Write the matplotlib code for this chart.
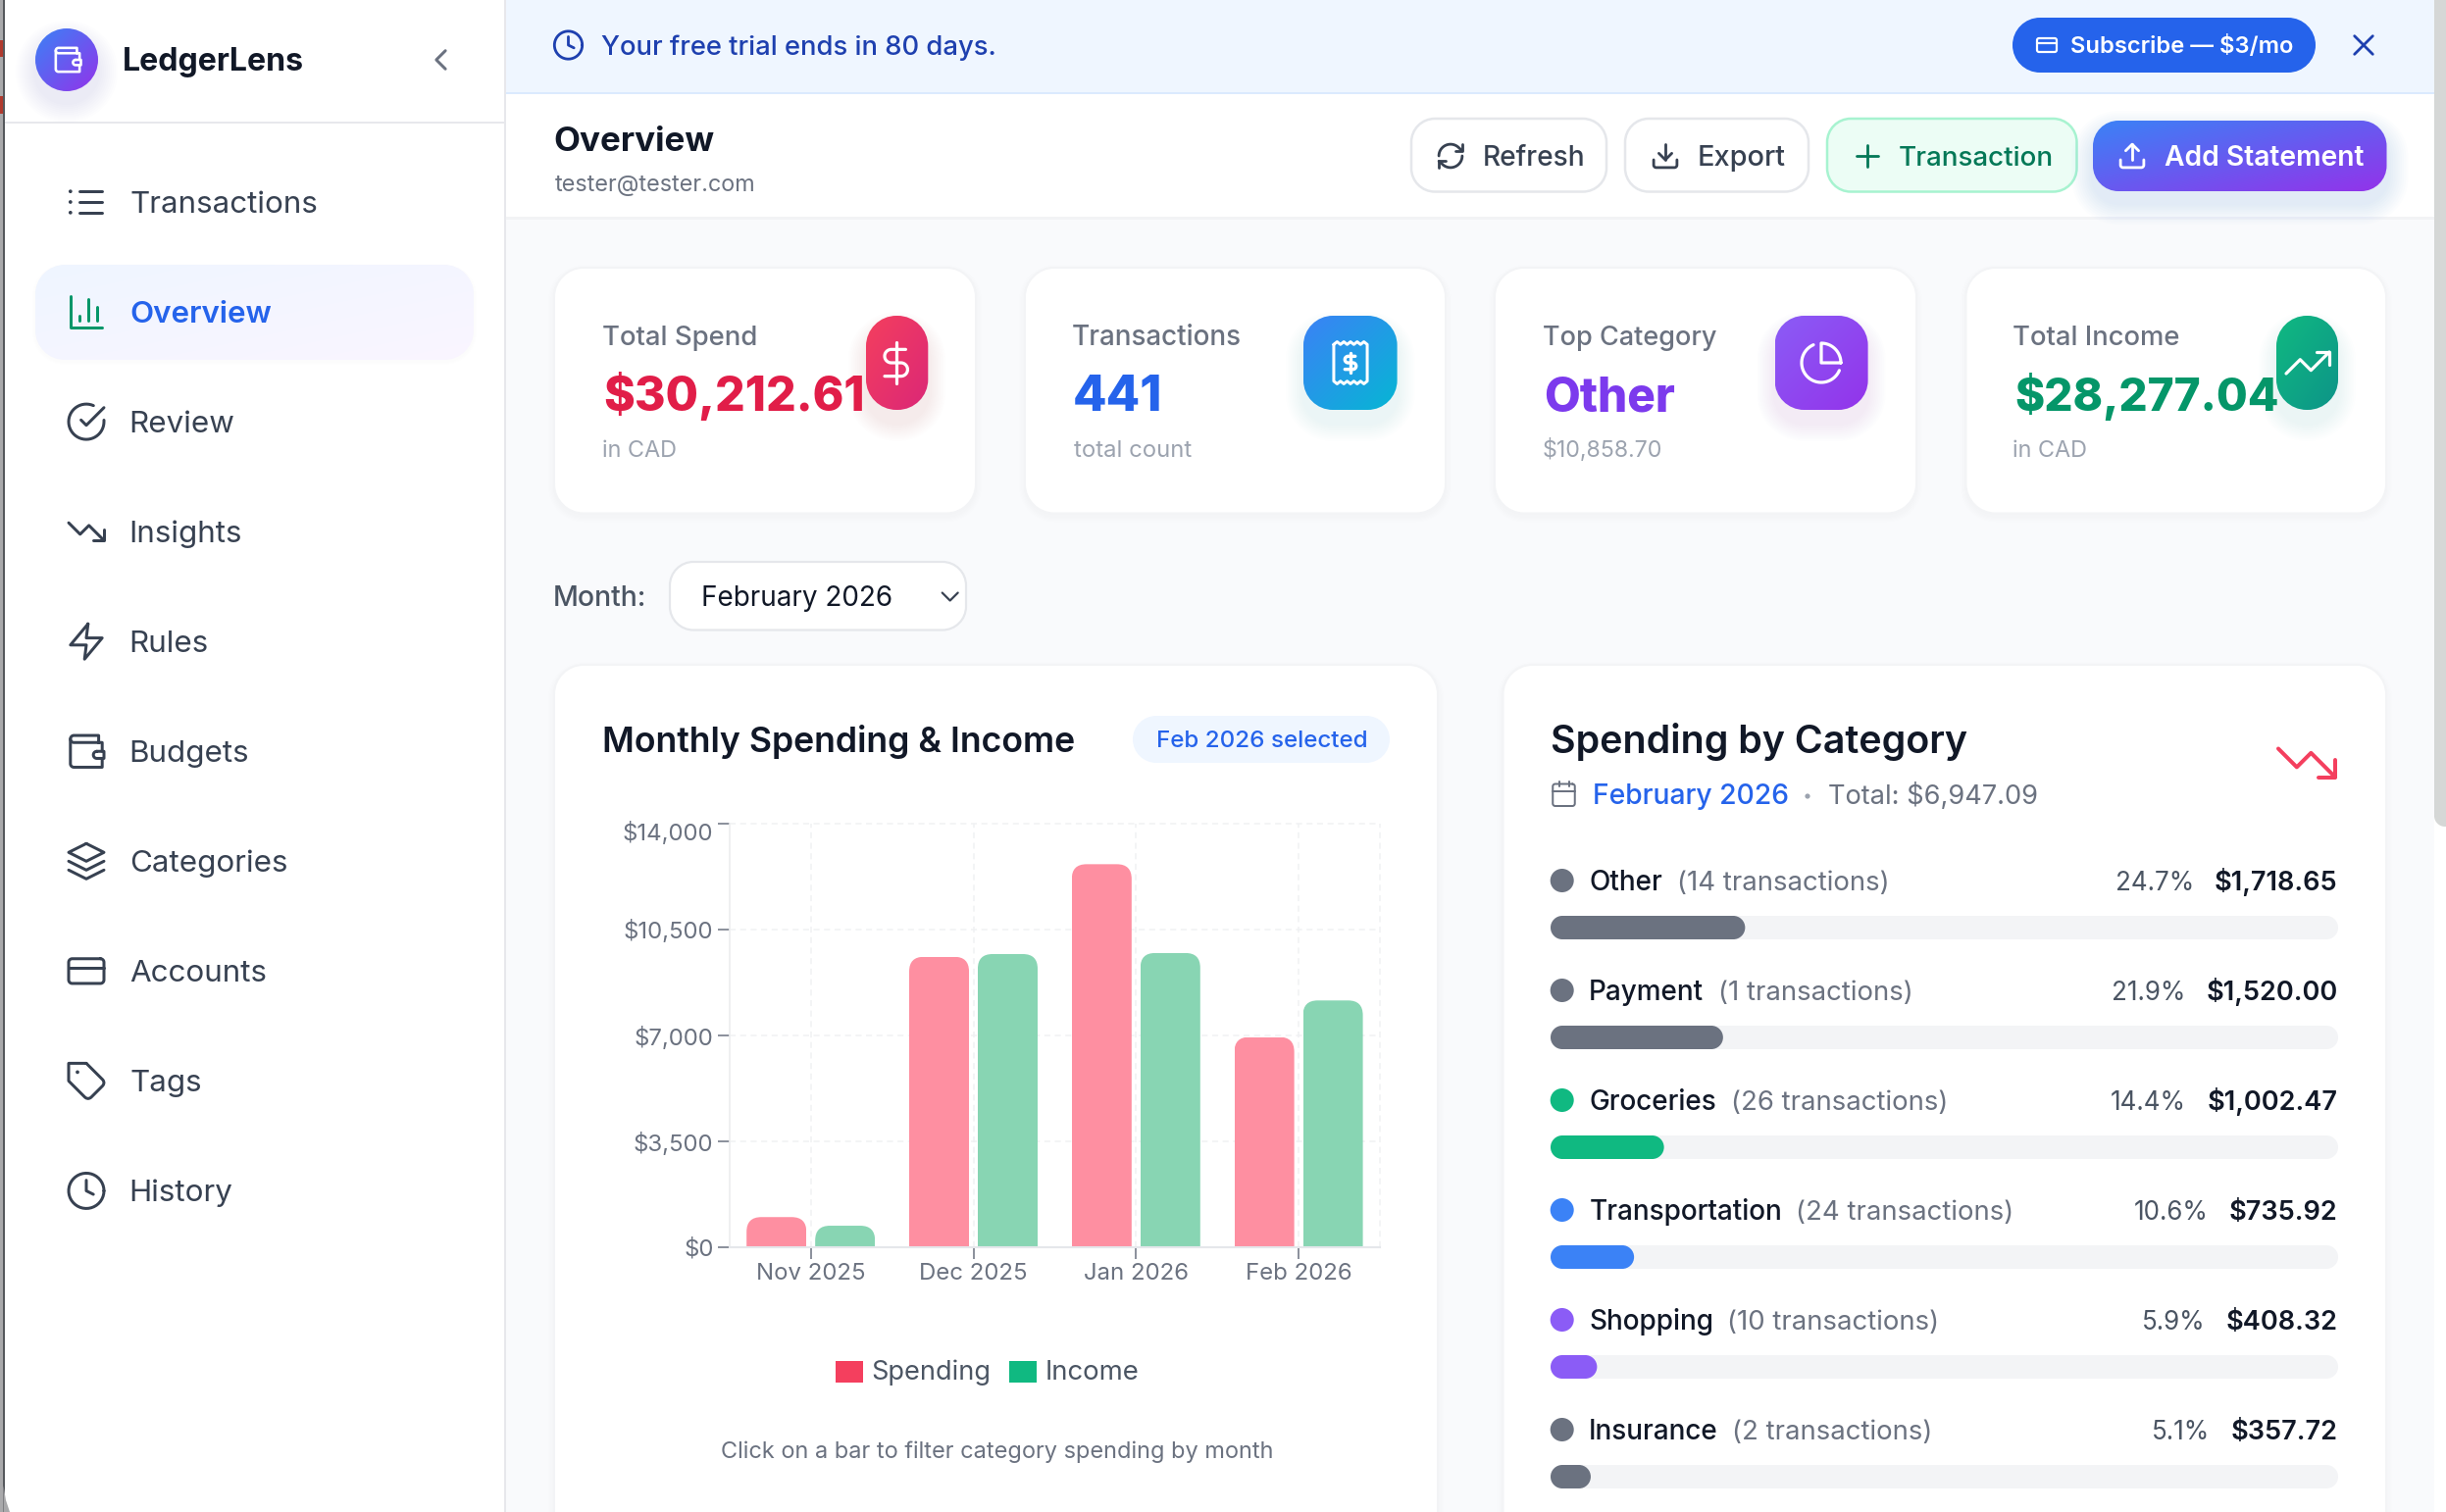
import numpy as np
import matplotlib
matplotlib.use("Agg")
import matplotlib.pyplot as plt
from matplotlib.patches import PathPatch, Circle, Rectangle, Polygon
from matplotlib.path import Path
from matplotlib.textpath import TextPath
from matplotlib.font_manager import FontProperties
from matplotlib.transforms import ScaledTranslation
from matplotlib.colors import to_rgb

# ---------- data ----------
months = ["Nov 2025", "Dec 2025", "Jan 2026", "Feb 2026"]
spending = [997, 9600, 12660, 6947.09]
income = [712, 9690, 9725, 8157]
y_ticks = [0, 3500, 7000, 10500, 14000]
y_labels = ["$0", "$3,500", "$7,000", "$10,500", "$14,000"]

nav_labels = ["Transactions", "Overview", "Review", "Insights", "Rules",
              "Budgets", "Categories", "Accounts", "Tags", "History"]
cat_names = ["Other", "Payment", "Groceries", "Transportation", "Shopping", "Insurance"]
cat_counts = [14, 1, 26, 24, 10, 2]
cat_pcts = [24.7, 21.9, 14.4, 10.6, 5.9, 5.1]
cat_amounts = ["$1,718.65", "$1,520.00", "$1,002.47", "$735.92", "$408.32", "$357.72"]
cat_colors = ["#6B7280", "#6B7280", "#10B981", "#3B82F6", "#8B5CF6", "#6B7280"]

W, H = 2494, 1542
FONT = "Inter"
fig = plt.figure(figsize=(W / 100, H / 100), dpi=100, facecolor="#F9FAFB")
ax = fig.add_axes([0, 0, 1, 1], zorder=0)
ax.set_xlim(0, W)
ax.set_ylim(H, 0)
ax.axis("off")
ax.set_autoscale_on(False)


def fp(w):
    return FontProperties(family=[FONT, "DejaVu Sans"], weight=w)


def ext(s, w):
    return TextPath((0, 0), s, size=100, prop=fp(w)).get_extents()


def fit(s, px, w=400):
    return px * 0.72 / (ext(s, w).width / 100)


def width(s, size, w=400):
    return ext(s, w).width / 100 * size / 0.72


def T(x, y, s, size, c, w=400, ha="left"):
    if ha == "left":
        x = x - 0.5 * ext(s, w).x0 / 100 * size / 0.72
    return ax.text(x, y, s, fontsize=size, color=c, family=[FONT, "DejaVu Sans"],
                   weight=w, ha=ha, va="baseline", zorder=2)


def TF(x0, x1, y, s, c, w=400):
    return T(x0, y, s, fit(s, x1 - x0, w), c, w)


def round_path(x0, y0, x1, y1, r):
    r = min(r, (x1 - x0) / 2, abs(y1 - y0) / 2)
    k = r * 0.4477
    verts = [(x0 + r, y0), (x1 - r, y0), (x1 - k, y0), (x1, y0 + k), (x1, y0 + r),
             (x1, y1 - r), (x1, y1 - k), (x1 - k, y1), (x1 - r, y1),
             (x0 + r, y1), (x0 + k, y1), (x0, y1 - k), (x0, y1 - r),
             (x0, y0 + r), (x0, y0 + k), (x0 + k, y0), (x0 + r, y0), (x0 + r, y0)]
    codes = [Path.MOVETO, Path.LINETO, Path.CURVE4, Path.CURVE4, Path.CURVE4,
             Path.LINETO, Path.CURVE4, Path.CURVE4, Path.CURVE4,
             Path.LINETO, Path.CURVE4, Path.CURVE4, Path.CURVE4,
             Path.LINETO, Path.CURVE4, Path.CURVE4, Path.CURVE4, Path.CLOSEPOLY]
    return Path(verts, codes)


def rbox(x0, y0, x1, y1, r, fc, ec="none", lw=0, alpha=None):
    p = PathPatch(round_path(x0, y0, x1, y1, r), fc=fc, ec=ec, lw=lw * 0.72, alpha=alpha, zorder=2)
    ax.add_patch(p)
    return p


def rect(x0, y0, x1, y1, c):
    ax.add_patch(Rectangle((x0, y0), x1 - x0, y1 - y0, fc=c, ec="none", zorder=2))


def soft(x0, y0, x1, y1, r, c, alpha, spread, dy, n=10):
    for i in range(n):
        s = spread * (1 - i / n)
        rbox(x0 - s, y0 - s + dy, x1 + s, y1 + s + dy, r + s, c, alpha=alpha / n)


def grad(x0, y0, x1, y1, r, c0, c1):
    n = 80
    u, v = np.meshgrid(np.linspace(0, 1, n), np.linspace(0, 1, n))
    t = ((u + v) / 2)[..., None]
    img = np.array(to_rgb(c0)) * (1 - t) + np.array(to_rgb(c1)) * t
    im = ax.imshow(img, extent=(x0, x1, y1, y0), aspect="auto", zorder=2, interpolation="bilinear")
    im.set_clip_path(round_path(x0, y0, x1, y1, r), ax.transData)


# ---------- icon geometry (24-unit grid) ----------
def L(*pts):
    return np.array(pts, float)


def arc(cx, cy, r, a0, a1, n=40):
    a = np.radians(np.linspace(a0, a1, n))
    return np.c_[cx + r * np.cos(a), cy + r * np.sin(a)]


def J(*parts):
    return np.vstack(parts)


def rr(x, y, w, h, r):
    return J(arc(x + w - r, y + r, r, 270, 360, 8), arc(x + w - r, y + h - r, r, 0, 90, 8),
             arc(x + r, y + h - r, r, 90, 180, 8), arc(x + r, y + r, r, 180, 270, 8), L((x + w - r, y)))


def icon(cx, cy, sc, shapes, c, lw, sy=None):
    sy = sc if sy is None else sy
    for s in shapes:
        px, py = cx + (s[:, 0] - 12) * sc, cy + (s[:, 1] - 12) * sy
        if len(s) == 1:
            ax.add_patch(Circle((px[0], py[0]), lw * 0.62, fc=c, ec="none", zorder=2))
        else:
            ax.plot(px, py, color=c, lw=lw * 0.72, solid_capstyle="round", solid_joinstyle="round", zorder=2)


I_LIST = [L((8, 6), (21, 6)), L((8, 12), (21, 12)), L((8, 18), (21, 18)), L((3, 6)), L((3, 12)), L((3, 18))]
I_BARS = [L((3, 3), (3, 21), (21, 21)), L((18, 17), (18, 9)), L((13, 17), (13, 5)), L((8, 17), (8, 14))]
I_CHECK = [J(L((22, 11.08)), arc(12, 12, 10, 0, 294)), L((22, 4), (12, 14.01), (9, 11.01))]
I_DOWN = [L((22, 17), (13.5, 8.5), (8.5, 13.5), (2, 7)), L((16, 17), (22, 17), (22, 11))]
I_UP = [L((22, 7), (13.5, 15.5), (8.5, 10.5), (2, 17)), L((16, 7), (22, 7), (22, 13))]
I_ZAP = [L((13, 2), (3, 14), (12, 14), (11, 22), (21, 10), (12, 10), (13, 2))]
I_WALLET = [J(L((21, 12), (21, 7)), arc(5, 5, 2, 90, 270), L((19, 3), (19, 7))),
            J(L((3, 5)), arc(5, 19, 2, 180, 90), L((21, 21), (21, 16))),
            J(arc(18, 14, 2, 270, 90), L((22, 16), (22, 12), (18, 12)))]
I_LAYERS = [L((12, 2), (2, 7), (12, 12), (22, 7), (12, 2)), L((2, 17), (12, 22), (22, 17)), L((2, 12), (12, 17), (22, 12))]
I_CARD = [rr(2, 5, 20, 14, 2), L((2, 10), (22, 10))]
I_TAG = [L((12, 2), (2, 2), (2, 12), (11.29, 21.29), (12, 21.75), (13, 22), (14, 21.75), (14.71, 21.29),
           (21.29, 14.71), (21.75, 14), (22, 13), (21.75, 12), (21.29, 11.29), (12, 2)), L((7, 7))]
I_CLOCK = [arc(12, 12, 10, 0, 360), L((12, 6), (12, 12), (16, 14))]
I_REFRESH = [J(arc(12, 12, 9, 180, 315), L((21, 8))), L((21, 3), (21, 8), (16, 8)),
             J(arc(12, 12, 9, 0, 135), L((3, 16))), L((8, 16), (3, 16), (3, 21))]
_U = J(L((21, 15), (21, 19)), arc(19, 19, 2, 0, 90), arc(5, 19, 2, 90, 180), L((3, 15)))
I_DOWNLOAD = [_U, L((7, 10), (12, 15), (17, 10)), L((12, 15), (12, 3))]
I_UPLOAD = [_U, L((17, 8), (12, 3), (7, 8)), L((12, 3), (12, 15))]
I_PLUS = [L((5, 12), (19, 12)), L((12, 5), (12, 19))]
I_X = [L((18, 6), (6, 18)), L((6, 6), (18, 18))]
I_DOLLAR = [L((12, 1), (12, 23)), J(L((17, 5)), arc(9.5, 8.5, 3.5, 270, 90), arc(14.5, 15.5, 3.5, 270, 450), L((6, 19)))]
I_PIE = [arc(12, 12, 10, 22.9, 246.4), J(arc(12, 12, 10, 360, 270), L((12, 12), (22, 12)))]
I_CAL = [rr(3, 4, 18, 18, 2), L((16, 2), (16, 6)), L((8, 2), (8, 6)), L((3, 10), (21, 10))]
_tx = np.linspace(3.25, 20.75, 11)
_top = np.c_[_tx, np.where(np.arange(11) % 2 == 0, 2.4, 1.0)]
_bot = np.c_[_tx[::-1], np.where(np.arange(11) % 2 == 0, 21.6, 23.0)]
I_RECEIPT = [J(_top, _bot, _top[:1])]
nav_icons = [I_LIST, I_BARS, I_CHECK, I_DOWN, I_ZAP, I_WALLET, I_LAYERS, I_CARD, I_TAG, I_CLOCK]

INK, G7, G6, G5, G4 = "#111827", "#374151", "#4B5563", "#6B7280", "#9CA3AF"

# ---------- page frame ----------
rect(516, 0, 2483, H, "#F9FAFC")
rect(2482, 0, W, H, "#FFFFFF")
rbox(2482, -30, 2510, 843, 11, "#D5D7D6")

# ---------- sidebar ----------
rect(0, 0, 4, H, "#A9A9AB")
rect(3, 0, 4.5, H, "#55585C")
rect(0, 41, 3, 58, "#B03A2E")
rect(0, 98, 3, 116, "#B03A2E")
rect(4.5, 0, 514, H, "#FFFFFF")
rect(514, 0, 516, H, "#E7E8EC")
rect(4.5, 123.5, 514, 126, "#E7E8EC")
ax.add_patch(Polygon([(3.5, 1515), (6, 1530), (10, H), (3.5, H)], fc="#A9A9AB", ec="none", zorder=2))

soft(36, 29, 100, 93, 32, "#6366F1", 0.10, 20, 12)
grad(36, 29, 100, 93, 32, "#3B82F6", "#9333EA")
icon(69, 61, 1.35, I_WALLET, "#FFFFFF", 2.6)
TF(126, 307.5, 71.7, "LedgerLens", INK, 700)
icon(449.5, 61, 1.55, [L((15, 18), (9, 12), (15, 6))], G5, 3)

soft(36, 270, 483, 367, 30, "#111827", 0.012, 3, 2, n=3)
grad(36, 270, 483, 367, 30, "#EFF6FF", "#FAF5FF")
nav_size = fit("Transactions", 189, 400)
for i, (lab, ic) in enumerate(zip(nav_labels, nav_icons)):
    base = 216.7 + 112.05 * i
    active = lab == "Overview"
    T(133, base, lab, nav_size, "#2563EB" if active else G7, 600 if active else 400)
    icon(88, base - 10.7, 1.8, ic, "#059669" if active else G7, 3)

# ---------- banner ----------
rect(516, 0, 2482, 94, "#EFF6FF")
rect(516, 94, 2482, 96, "#DBEAFE")
icon(579.5, 46, 1.42, I_CLOCK, "#1E40AF", 2.8)
TF(613.5, 1014, 56, "Your free trial ends in 80 days.", "#1E40AF", 500)
rbox(2052, 18, 2361, 74, 28, "#2563EB")
icon(2087, 46, 1.0, I_CARD, "#FFFFFF", 2.2)
TF(2112, 2337, 54, "Subscribe \u2014 $3/mo", "#FFFFFF", 600)
icon(2410, 46, 1.55, I_X, "#1E40AF", 2.8)

# ---------- header ----------
rect(516, 96, 2482, 221, "#FFFFFF")
rect(516, 221, 2482, 224, "#F2F3F5")
TF(565.5, 727.5, 154, "Overview", INK, 700)
TF(565.5, 768, 194.5, "tester@tester.com", G5, 400)

rbox(1439, 121, 1638, 195.5, 24, "#FFFFFF", "#E5E7EB", 2.5)
icon(1479, 159, 1.32, I_REFRESH, G7, 2.8)
TF(1512.5, 1613, 168.7, "Refresh", G7, 500)
rbox(1657, 121, 1844, 195.5, 24, "#FFFFFF", "#E5E7EB", 2.5)
icon(1698, 159, 1.32, I_DOWNLOAD, G7, 2.8)
TF(1732, 1819, 168.7, "Export", G7, 500)
rbox(1863, 121, 2117.5, 195.5, 24, "#ECFDF5", "#A7F3D0", 2.5)
icon(1904, 159, 1.6, I_PLUS, "#047857", 2.8)
TF(1936, 2091, 168.7, "Transaction", "#047857", 500)
soft(2134, 123, 2433.5, 195, 26, "#3B82F6", 0.12, 22, 12)
grad(2134, 123, 2433.5, 195, 26, "#3B82F6", "#9333EA")
icon(2174, 159, 1.32, I_UPLOAD, "#FFFFFF", 2.8)
TF(2207.5, 2410, 168.7, "Add Statement", "#FFFFFF", 600)

# ---------- KPI cards ----------
for x0, x1 in [(565, 995), (1045, 1474), (1524, 1954), (2004.5, 2433)]:
    soft(x0, 273, x1, 523.5, 30, "#111827", 0.025, 6, 3, n=5)
    rbox(x0, 273, x1, 523.5, 30, "#FFFFFF", "#F3F4F6", 2)

kpi = [
    (614.5, 769.5, "Total Spend", 616.5, 879, "$30,212.61", "#E11D48", 614.5, 688, "in CAD"),
    (1093.5, 1264.5, "Transactions", 1095, 1181.5, "441", "#2563EB", 1095, 1214, "total count"),
    (1573.5, 1749, "Top Category", 1575, 1706.5, "Other", "#7C3AED", 1573.5, 1693.5, "$10,858.70"),
    (2053, 2221, "Total Income", 2055, 2321, "$28,277.04", "#059669", 2053, 2126.5, "in CAD"),
]
for a0, a1, a, b0, b1, b, c, d0, d1, d in kpi:
    TF(a0, a1, 352, a, G5, 500)
    TF(b0, b1, 419, b, c, 800)
    TF(d0, d1, 466, d, G4, 400)

tiles = [
    (883, 946.3, 31, "#F43F5E", "#DB2777", "#F43F5E"),
    (1329, 1424.6, 30, "#3B82F6", "#06B6D4", "#3B82F6"),
    (1809.5, 1904.6, 30, "#8B5CF6", "#9333EA", "#7C3AED"),
    (2321, 2384, 31, "#10B981", "#0D9488", "#10B981"),
]
for x0, x1, r, c0, c1, sh in tiles:
    soft(x0, 322, x1, 418, r, sh, 0.09, 18, 14)
    grad(x0, 322, x1, 418, r, c0, c1)
icon(913.7, 370, 1.95, I_DOLLAR, "#FFFFFF", 3.2)
icon(1377, 370, 1.95, I_RECEIPT, "#FFFFFF", 3)
icon(1377, 370, 0.95, I_DOLLAR, "#FFFFFF", 3.4)
icon(1857, 370, 2.0, I_PIE, "#FFFFFF", 3.2)
icon(2353, 370, 2.2, I_UP, "#FFFFFF", 3.2)

# ---------- month selector ----------
TF(565, 656, 618, "Month:", G6, 500)
rbox(683, 573, 985, 642.5, 24, "#FFFFFF", "#E5E7EB", 2.2)
TF(716.7, 908, 618, "February 2026", INK, 400)
icon(968.7, 608.5, 1.33, [L((6, 9), (12, 15), (18, 9))], G7, 2.2)

# ---------- chart card ----------
soft(565, 678, 1466, 1600, 30, "#111827", 0.025, 6, 3, n=5)
rbox(565, 678, 1466, 1600, 30, "#FFFFFF", "#F3F4F6", 2)
TF(615, 1094, 767, "Monthly Spending & Income", INK, 600)
rbox(1155, 730, 1417, 778, 24, "#EFF6FF")
TF(1180, 1392, 762.5, "Feb 2026 selected", "#2563EB", 500)

AX0, AX1, AY0, AY1 = 743.8, 1407, 840, 1272
cax = fig.add_axes([AX0 / W, 1 - AY1 / H, (AX1 - AX0) / W, (AY1 - AY0) / H], zorder=1)
cax.patch.set_visible(False)
x = np.arange(len(months))
bw, off = 0.368, 0.211
b1 = cax.bar(x - off, spending, bw, color="#FE8FA1", label="Spending", zorder=2)
b2 = cax.bar(x + off, income, bw, color="#88D5B3", label="Income", zorder=2)
cax.set_xlim(-0.5, 3.5)
cax.set_ylim(0, 14000)
rx = 15 / ((AX1 - AX0) / 4)
ry = 15 * 14000 / (AY1 - AY0)
for r_ in list(b1) + list(b2):
    a, c = r_.get_x(), r_.get_x() + r_.get_width()
    h = r_.get_height()
    bot = -1000
    verts = [(a, bot), (a, h - ry), (a, h), (a + rx, h), (c - rx, h), (c, h), (c, h - ry), (c, bot), (a, bot)]
    codes = [Path.MOVETO, Path.LINETO, Path.CURVE3, Path.CURVE3, Path.LINETO, Path.CURVE3, Path.CURVE3, Path.LINETO, Path.CLOSEPOLY]
    r_.set_clip_path(Path(verts, codes), cax.transData)

tick_size = fit("Nov 2025", 108, 400)
cax.set_xticks(x, months)
cax.set_yticks(y_ticks, y_labels)
cax.tick_params(axis="both", length=8.6, width=1.1, color=G5, labelcolor=G5, labelsize=tick_size, pad=3.2)
for lbl in cax.get_xticklabels() + cax.get_yticklabels():
    lbl.set_family([FONT, "DejaVu Sans"])
top_lbl = cax.get_yticklabels()[-1]
top_lbl.set_transform(top_lbl.get_transform() + ScaledTranslation(0, -0.08, fig.dpi_scale_trans))
cax.set_axisbelow(True)
cax.grid(True, color="#F0F1F3", lw=1.1, ls=(0, (4, 3)))
cax.axvline(3.5, color="#F0F1F3", lw=1.1, ls=(0, (4, 3)), clip_on=False, zorder=1)
for s in ("top", "right"):
    cax.spines[s].set_visible(False)
cax.spines["left"].set_color("#ECEDEF")
cax.spines["left"].set_linewidth(1.2)
cax.spines["bottom"].set_color("#E5E7EB")
cax.spines["bottom"].set_linewidth(1.5)
for gl in cax.get_ygridlines():
    gl.set_clip_on(False)

rect(851.7, 1388, 880, 1409.5, "#F43F5E")
TF(889.5, 1007.6, 1406.8, "Spending", G6, 400)
rect(1029, 1388, 1057, 1409.5, "#10B981")
TF(1066.4, 1158.7, 1406.8, "Income", G6, 400)
TF(735.4, 1295.4, 1486.5, "Click on a bar to filter category spending by month", G5, 400)

# ---------- category card ----------
soft(1532.5, 678, 2433, 1600, 30, "#111827", 0.025, 6, 3, n=5)
rbox(1532.5, 678, 2433, 1600, 30, "#FFFFFF", "#F3F4F6", 2)
TF(1582, 2004.5, 768, "Spending by Category", INK, 600)
icon(2352, 778, 2.9, I_DOWN, "#F43F5E", 4)
icon(1594.5, 809.5, 1.25, I_CAL, G5, 2)
TF(1625.6, 1822, 820, "February 2026", "#2563EB", 500)
ax.add_patch(Circle((1843, 812), 2.6, fc=G4, ec="none", zorder=2))
TF(1864.7, 2076, 820, "Total: $6,947.09", G5, 400)

name_size = fit("Transportation", 194, 500)
detail_size = fit("(24 transactions)", 216.5, 400)
pct_size = fit("10.6%", 72, 400)
amt_size = fit("$1,520.00", 131.5, 600)
TRACK0, TRACK1 = 1581, 2384
for i, (n, cnt, p, amt, col) in enumerate(zip(cat_names, cat_counts, cat_pcts, cat_amounts, cat_colors)):
    cy = 898 + 112 * i
    ax.add_patch(Circle((1592.7, cy), 12, fc=col, ec="none", zorder=2))
    T(1621, cy + 10, n, name_size, INK, 500)
    nx = 1621 + width(n, name_size, 500) + 17.8
    T(nx, cy + 10, f"({cnt} transactions)", detail_size, G5, 400)
    T(2383.5, cy + 10, amt, amt_size, INK, 600, ha="right")
    px = 2383.5 - width(amt, amt_size, 600) - 24
    T(px, cy + 10, f"{p}%", pct_size, G6, 400, ha="right")
    rbox(TRACK0, cy + 36, TRACK1, cy + 60, 12, "#F3F4F6")
    rbox(TRACK0, cy + 36, TRACK0 + (TRACK1 - TRACK0) * p / 100, cy + 60, 12, col)

ax.set_xlim(0, W)
ax.set_ylim(H, 0)
fig.savefig("out.png", dpi=100, facecolor=fig.get_facecolor())
